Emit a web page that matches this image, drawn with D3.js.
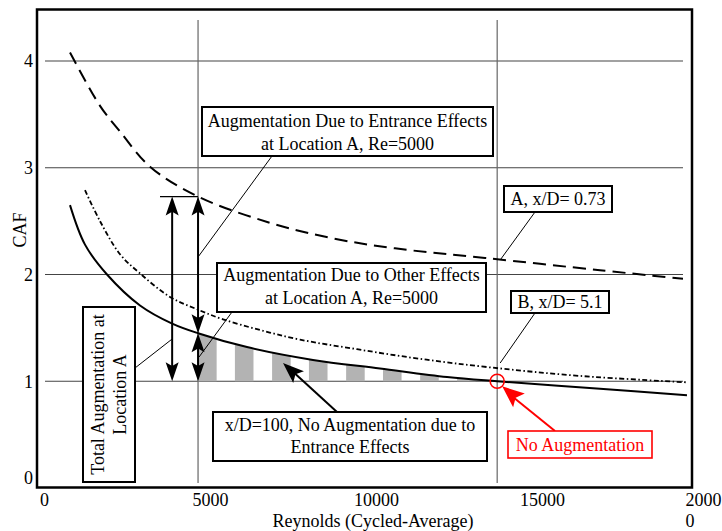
<!DOCTYPE html>
<html>
<head>
<meta charset="utf-8">
<script src="https://cdn.jsdelivr.net/npm/d3@7/dist/d3.min.js"></script>
<style>
  html, body { margin: 0; padding: 0; background: #fff; }
  svg { display: block; }
  text { font-family: "Liberation Serif", "Times New Roman", serif; }
</style>
</head>
<body>
<svg id="chart" width="722" height="531"></svg>
<script>
// Axis ticks and reference lines
const reTicks = [0, 5000, 10000, 15000, 20000];
const cafTicks = [0, 1, 2, 3, 4];
const gridCAF = [1, 2, 3, 4];
const refRe = [4640, 13650];          // vertical reference lines (Re = 5000 station, no-augmentation point)
const totalArrowRe = 3860;            // position of the total-augmentation arrow

// Location A, x/D = 0.73 (dashed)
const reA  = [783, 1687, 2289, 3193, 4640, 6747, 8675, 10572, 13283, 16747, 19247];
const cafA = [4.08, 3.58, 3.34, 3.01, 2.73, 2.49, 2.34, 2.245, 2.155, 2.04, 1.96];

// Location B, x/D = 5.1 (dash-dot)
const reB  = [1235, 1687, 2289, 2892, 3795, 4640, 5392, 6506, 7711, 9428, 11325, 13434, 16145, 19367];
const cafB = [2.79, 2.50, 2.19, 2.01, 1.79, 1.67, 1.58, 1.48, 1.39, 1.30, 1.21, 1.13, 1.05, 0.99];

// x/D = 100, fully developed (solid)
const reC  = [783, 1235, 1898, 2892, 3860, 4640, 6114, 8102, 10120, 12139, 13650, 16747, 19367];
const cafC = [2.65, 2.28, 2.0, 1.71, 1.54, 1.45, 1.32, 1.20, 1.12, 1.04, 1.0, 0.93, 0.87];

// Shaded bands between the x/D = 100 curve and CAF = 1
const shadeStripes = [[4640, 5200], [5750, 6310], [6870, 7430], [7980, 8540],
                      [9100, 9660], [10210, 10770], [11330, 11890], [12440, 13000]];

const svg = d3.select("#chart");
const FONT = 18;

const x = d3.scaleLinear().domain([0, 20000]).range([44, 708]);
const y = d3.scaleLinear().domain([0, 4]).range([488, 61]);

const zip = (a, b) => a.map((v, i) => [v, b[i]]);
const serA = zip(reA, cafA), serB = zip(reB, cafB), serC = zip(reC, cafC);

svg.append("rect").attr("width", 722).attr("height", 531).attr("fill", "#fff");

// Grid
const grid = svg.append("g");
grid.selectAll("line.h").data(gridCAF).join("line")
  .attr("x1", 45).attr("x2", 683)
  .attr("y1", d => y(d)).attr("y2", d => y(d))
  .attr("stroke", "#444").attr("stroke-width", 1.2);
grid.selectAll("line.v").data(refRe).join("line")
  .attr("x1", d => x(d)).attr("x2", d => x(d))
  .attr("y1", 20).attr("y2", 483)
  .attr("stroke", "#666").attr("stroke-width", 1.2);

// Striped shading under the x/D = 100 curve
const clip = svg.append("defs").append("clipPath").attr("id", "stripes");
clip.selectAll("rect").data(shadeStripes).join("rect")
  .attr("x", d => x(d[0])).attr("width", d => x(d[1]) - x(d[0]))
  .attr("y", 0).attr("height", 531);
const curve = d3.curveCatmullRom.alpha(0.5);
svg.append("path")
  .datum(serC)
  .attr("clip-path", "url(#stripes)")
  .attr("fill", "#b3b3b3")
  .attr("d", d3.area().x(d => x(d[0])).y0(y(1)).y1(d => y(d[1])).curve(curve));

// Curves
const line = d3.line().x(d => x(d[0])).y(d => y(d[1])).curve(curve);
svg.append("path").datum(serA).attr("d", line)
  .attr("fill", "none").attr("stroke", "#000").attr("stroke-width", 2)
  .attr("stroke-dasharray", "13 7");
svg.append("path").datum(serB).attr("d", line)
  .attr("fill", "none").attr("stroke", "#000").attr("stroke-width", 1.8)
  .attr("stroke-dasharray", "5 2.5 1.5 2.5");
svg.append("path").datum(serC).attr("d", line)
  .attr("fill", "none").attr("stroke", "#000").attr("stroke-width", 2);

// Axes
const xAxis = svg.append("g").attr("transform", "translate(0,488)")
  .call(d3.axisBottom(x).tickValues(reTicks).tickSize(0).tickPadding(4).tickFormat(d3.format("d")));
xAxis.select(".domain").remove();
xAxis.selectAll("text").attr("font-size", FONT).attr("fill", "#000")
  .attr("font-family", "Liberation Serif").attr("dy", "0.75em");
// the last label wraps onto two lines
xAxis.selectAll(".tick").filter(d => d === 20000).select("text")
  .text(null).attr("text-anchor", "start").attr("x", -23)
  .call(t => {
    t.append("tspan").attr("x", -23).text("2000");
    t.append("tspan").attr("x", -23).attr("dy", "1.2em").text("0");
  });

const yAxis = svg.append("g").attr("transform", "translate(33,0)")
  .call(d3.axisLeft(y).tickValues(cafTicks).tickSize(0).tickPadding(0).tickFormat(d3.format("d")));
yAxis.select(".domain").remove();
yAxis.selectAll("text").attr("font-size", FONT).attr("fill", "#000")
  .attr("font-family", "Liberation Serif");
yAxis.selectAll(".tick").filter(d => d === 0).select("text").attr("y", -10);

// Axis titles
svg.append("text").attr("x", 373).attr("y", 527).attr("text-anchor", "middle")
  .attr("font-size", FONT).text("Reynolds (Cycled-Average)");
svg.append("text").attr("transform", "translate(26,230) rotate(-90)")
  .attr("text-anchor", "middle").attr("font-size", FONT).text("CAF");

// Arrow helpers
function arrowHead(g, tip, tail, L, w, color) {
  const dx = tip[0] - tail[0], dy = tip[1] - tail[1];
  const len = Math.hypot(dx, dy), ux = dx / len, uy = dy / len;
  const nx = -uy, ny = ux;
  const bx = tip[0] - L * ux, by = tip[1] - L * uy;
  const mx = tip[0] - 0.8 * L * ux, my = tip[1] - 0.8 * L * uy;
  g.append("path")
    .attr("d", `M${tip[0]},${tip[1]}L${bx + w * nx},${by + w * ny}L${mx},${my}L${bx - w * nx},${by - w * ny}Z`)
    .attr("fill", color).attr("stroke", "none");
}
function doubleArrow(g, px, yTop, yBot) {
  g.append("line").attr("x1", px).attr("x2", px).attr("y1", yTop + 4).attr("y2", yBot - 4)
    .attr("stroke", "#000").attr("stroke-width", 2);
  arrowHead(g, [px, yTop], [px, yBot], 19, 6.5, "#000");
  arrowHead(g, [px, yBot], [px, yTop], 19, 6.5, "#000");
}
function leader(g, p, q, color, w) {
  g.append("line").attr("x1", p[0]).attr("y1", p[1]).attr("x2", q[0]).attr("y2", q[1])
    .attr("stroke", color || "#000").attr("stroke-width", w || 1);
}

const ann = svg.append("g");
const xRef = x(refRe[0]);
const topA = y(cafA[reA.indexOf(refRe[0])]);
const midC = y(cafC[reC.indexOf(refRe[0])]);
const one = y(1);

// short marker at the top of the arrows
leader(ann, [160, topA], [xRef, topA], "#000", 1.2);

// leader lines
leader(ann, [272, 156], [xRef, 257]);
leader(ann, [232, 312], [xRef + 1, 357]);
leader(ann, [135, 368], [x(totalArrowRe), 339]);
leader(ann, [535, 212], [x(refRe[1]) + 3, 260]);
leader(ann, [535, 313], [x(refRe[1]) + 3, 363]);

// augmentation arrows
doubleArrow(ann, x(totalArrowRe), topA, one);
doubleArrow(ann, xRef, topA, midC);
doubleArrow(ann, xRef, midC, one);

// pointer to the x/D = 100 curve
leader(ann, [337, 412], [290, 369], "#000", 2);
arrowHead(ann, [283, 363], [337, 412], 21, 8, "#000");

// no-augmentation marker
const red = "#ff0000";
ann.append("circle").attr("cx", x(refRe[1])).attr("cy", one).attr("r", 7)
  .attr("fill", "none").attr("stroke", red).attr("stroke-width", 1.6);
leader(ann, [555, 431], [508, 393], red, 2);
arrowHead(ann, [x(refRe[1]) + 5, one + 5], [555, 431], 22, 9, red);

// Text boxes
function box(x0, y0, x1, y1, lines, baselines, cx, color, sw) {
  const g = svg.append("g");
  g.append("rect").attr("x", x0).attr("y", y0).attr("width", x1 - x0).attr("height", y1 - y0)
    .attr("fill", "#fff").attr("stroke", color || "#000").attr("stroke-width", sw || 2);
  lines.forEach((t, i) => g.append("text").attr("x", cx).attr("y", baselines[i])
    .attr("text-anchor", "middle").attr("font-size", FONT).attr("fill", color || "#000").text(t));
}
box(202, 107, 493, 156, ["Augmentation Due to Entrance Effects", "at Location A, Re=5000"], [127, 150], 347.5);
box(217, 263, 486, 312, ["Augmentation Due to Other Effects", "at Location A, Re=5000"], [281, 304], 351.5);
box(504, 186, 612, 212, ["A, x/D= 0.73"], [205], 558);
box(511, 291, 609, 313, ["B, x/D= 5.1"], [308], 560);
box(213, 412, 487, 461, ["x/D=100, No Augmentation due to", "Entrance Effects"], [431, 453], 350);
box(508, 431, 652, 458, ["No Augmentation"], [451], 580, red, 1.6);

// rotated box for total augmentation
const tb = svg.append("g");
tb.append("rect").attr("x", 83).attr("y", 307).attr("width", 52).attr("height", 175)
  .attr("fill", "#fff").attr("stroke", "#000").attr("stroke-width", 2);
[["Total Augmentation at", 104], ["Location A", 126]].forEach(([t, bx]) =>
  tb.append("text").attr("transform", `translate(${bx},394.5) rotate(-90)`)
    .attr("text-anchor", "middle").attr("font-size", FONT).text(t));

// Frame
svg.append("rect").attr("x", 37).attr("y", 9.5).attr("width", 655).attr("height", 478)
  .attr("fill", "none").attr("stroke", "#000").attr("stroke-width", 2.5);
</script>
</body>
</html>
